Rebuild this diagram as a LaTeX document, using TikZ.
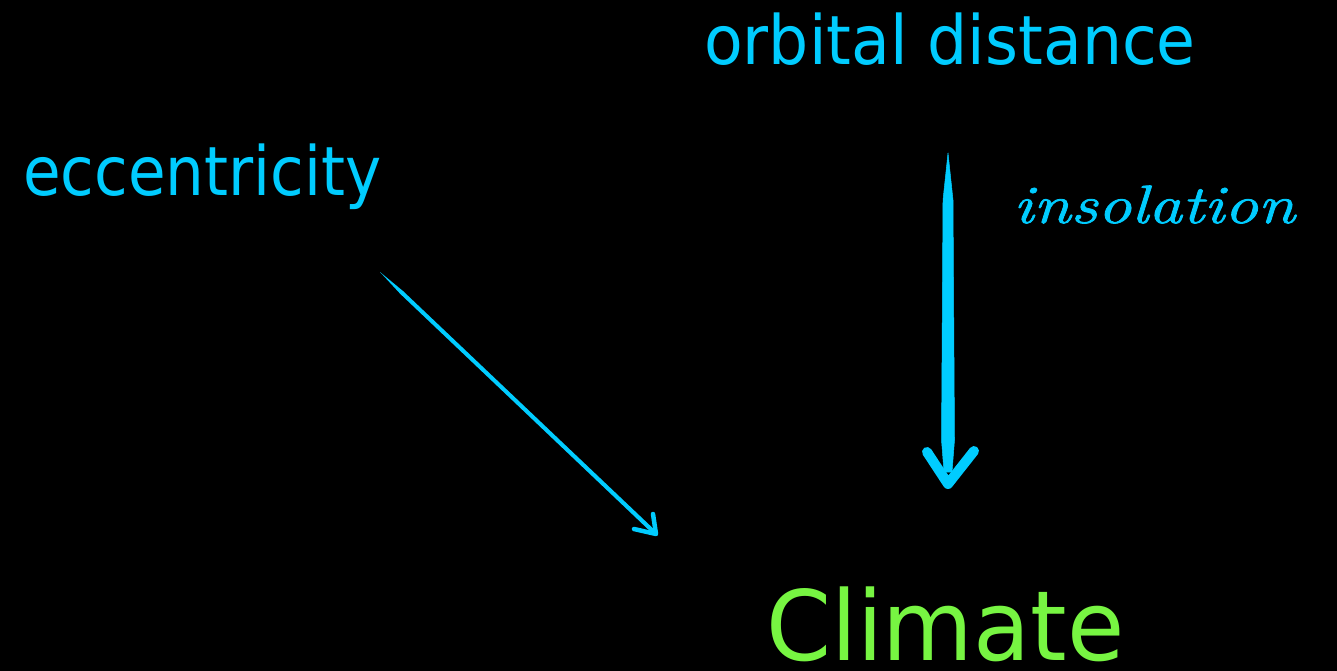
\documentclass[tikz,border=0pt]{standalone}
\usepackage{fontspec}
\newfontfamily\sansf[FakeStretch=0.9]{DejaVu Sans}
\newfontfamily\sansw[FakeStretch=0.93]{DejaVu Sans}
\newfontfamily\sansc[FakeStretch=0.96]{DejaVu Sans}
\newfontfamily\scriptf[FakeStretch=1.25,FakeBold=1.5]{Latin Modern Roman}
\definecolor{skyc}{RGB}{0,204,255}
\definecolor{limec}{RGB}{119,245,66}
\begin{document}
\begin{tikzpicture}[x=1pt,y=-1pt,
  lbl/.style={anchor=base west, inner sep=0pt, text=skyc, font=\sansf\fontsize{68}{80}\selectfont},
  brush/.style={fill=skyc, draw=skyc, line width=0.5pt, line join=round},
  headv/.style={draw=skyc, line cap=round, line join=round}]
\fill[black] (0,0) rectangle (1337,671);
\useasboundingbox (0,0) rectangle (1337,671);
\node[lbl, font=\sansw\fontsize{68}{80}\selectfont] (orb) at (704,65) {orbital distance};
\node[lbl] (ecc) at (23,195) {eccentricity};
\node[anchor=base west, inner sep=0pt, text=skyc, font=\scriptf\itshape\fontsize{54}{60}\selectfont] (ins) at (1013,223) {insolation};
\node[anchor=base west, inner sep=0pt, text depth=0pt, text=limec, font=\sansc\fontsize{97}{110}\selectfont] (cli) at (766,660) {Climate};
% anchor coordinates for the connectors
\coordinate (orbA) at (948,153);
\coordinate (orbB) at (948,484);
\coordinate (eccA) at (380,272);
\coordinate (eccB) at (656,534);
% vertical brush arrow
\fill[brush] (orbA) -- (953,200) -- (954.5,440) -- (952,472) -- (944,472) -- (941.5,440) -- (943,200) -- cycle;
\draw[headv, line width=10pt] (927,452) -- (orbB) -- (974,451);
% diagonal arrow
\fill[brush, draw=none] (eccA) -- (400.4,294) -- (654.6,535.5) -- (657.4,532.5) -- (403.2,291.2) -- cycle;
\draw[headv, line width=4.5pt] (634,529) -- (eccB) -- (653,514);
\end{tikzpicture}
\end{document}
